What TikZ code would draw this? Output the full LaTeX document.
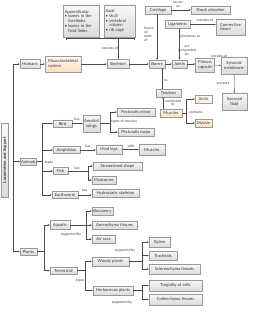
\documentclass[tikz,border=0pt]{standalone}
\usepackage{fontspec}
\setmainfont{Lato}
\usetikzlibrary{arrows.meta,shadows}
\newcommand\fsz{\fontsize{4.2}{4.8}\selectfont}
\newcommand\flab{\fontsize{3.5}{3.9}\selectfont}
\tikzset{
  box/.style={draw=gray!80, line width=0.4pt, top color=gray!6, bottom color=gray!28,
    inner sep=0.8pt, font=\fsz, text=black!80, align=center,
    drop shadow={shadow xshift=0.7pt, shadow yshift=-0.7pt, opacity=0.45}},
  pbox/.style={box, top color=orange!5, bottom color=orange!25},
  ln/.style={draw=gray!60!black, line width=0.35pt},
  arr/.style={ln, -{Stealth[length=2pt,width=1.7pt]}},
  lab/.style={font=\flab, text=black!75, inner sep=0.3pt, align=center}
}
\begin{document}
\begin{tikzpicture}[x=1pt,y=-1pt]
\useasboundingbox[fill=white] (0,0) rectangle (268,320);
% ---------- nodes (top part) ----------
\node[box, align=left, minimum width=36pt, minimum height=32pt, text width=33pt] (app) at (81,21) {Appendicular\\[-0.2pt]\textbullet\ bones in the\\\hphantom{\textbullet\ }forelimbs\\\textbullet\ bones in the\\\hphantom{\textbullet\ }hind limbs};
\node[box, align=left, minimum width=31pt, minimum height=32pt, text width=28pt] (axial) at (119.5,21) {Axial\\\textbullet\ skull\\\textbullet\ vertebral\\\hphantom{\textbullet\ }column\\\textbullet\ rib cage};
\node[box, minimum width=20pt, minimum height=9pt] (humans) at (30,64) {Humans};
\node[pbox, align=left, minimum width=36pt, minimum height=16pt] (musc) at (63,64) {Musculoskeletal\\system};
\node[box, minimum width=22pt, minimum height=9pt] (skel) at (118,64) {Skeleton};
\node[box, minimum width=16pt, minimum height=8pt] (bones) at (157,64) {Bones};
\node[box, minimum width=15pt, minimum height=8pt] (joints) at (179.5,64) {Joints};
\node[box, minimum width=19pt, minimum height=14pt] (fibrous) at (205,65) {Fibrous\\capsule};
\node[box, minimum width=26pt, minimum height=17pt] (synm) at (234,65.5) {Synovial\\membrane};
\node[box, minimum width=26pt, minimum height=8pt] (cart) at (158,10) {Cartilage};
\node[box, minimum width=39pt, minimum height=8pt] (shock) at (210.5,10) {Shock absorber};
\node[box, minimum width=25pt, minimum height=8pt] (lig) at (177.5,24.5) {Ligaments};
\node[box, align=left, minimum width=29pt, minimum height=16pt] (conn) at (230.5,27) {Connective\\tissue};
\node[box, minimum width=25pt, minimum height=17pt] (synf) at (234.5,101.5) {Synovial\\fluid};
\node[box, minimum width=25pt, minimum height=8pt] (tendons) at (168.5,93) {Tendons};
\node[pbox, minimum width=22pt, minimum height=8pt] (mus1) at (171,113) {Muscles};
\node[pbox, top color=orange!3, bottom color=orange!14, minimum width=17pt, minimum height=8pt] (actin) at (203.5,99) {Actin};
\node[pbox, minimum width=17pt, minimum height=8pt] (myosin) at (203.5,123) {Myosin};
% ---------- left side ----------
\node[box, rotate=90, minimum width=74pt, minimum height=7pt, font=\fsz\bfseries] (loco) at (5,160) {Locomotion and Support};
\node[box, minimum width=15pt, minimum height=7pt] (animals) at (28.5,161.5) {Animals};
\node[box, minimum width=19pt, minimum height=7pt] (bird) at (62.5,123.5) {Bird};
\node[box, minimum width=17pt, minimum height=17pt] (aero) at (91.5,123.5) {Aerofoil\\wings};
\node[box, minimum width=38pt, minimum height=8pt] (pmin) at (136,112) {Pectoralis minor};
\node[box, minimum width=36pt, minimum height=8pt] (pmaj) at (136,132) {Pectoralis major};
\node[box, minimum width=27pt, minimum height=7pt] (amph) at (66.5,150) {Amphibian};
\node[box, minimum width=26pt, minimum height=9pt] (hind) at (109,149.5) {Hind legs};
\node[box, minimum width=26pt, minimum height=11pt] (mus2) at (152,149.5) {Muscles};
\node[box, minimum width=15pt, minimum height=7pt] (fish) at (60.5,171) {Fish};
\node[box, minimum width=49pt, minimum height=8pt] (stream) at (117.5,166) {Streamlined shape};
\node[box, minimum width=24pt, minimum height=8pt] (myo) at (104,180) {Myotomes};
\node[box, minimum width=26pt, minimum height=7pt] (earth) at (65,195) {Earthworm};
\node[box, minimum width=47pt, minimum height=8pt] (hydro) at (115.5,193) {Hydrostatic skeleton};
\node[box, minimum width=17pt, minimum height=7pt] (plants) at (28.5,251.5) {Plants};
\node[box, minimum width=20pt, minimum height=9pt] (aquatic) at (60,225) {Aquatic};
\node[box, minimum width=27pt, minimum height=7pt] (terr) at (63.5,270.5) {Terrestrial};
\node[box, minimum width=21pt, minimum height=8pt] (buoy) at (102.5,211) {Buoyancy};
\node[box, minimum width=45pt, minimum height=8pt] (aeren) at (114.5,225) {Aerenchyma tissues};
\node[box, minimum width=23pt, minimum height=8pt] (airs) at (103.5,239) {Air sacs};
\node[box, minimum width=37pt, minimum height=9pt] (woody) at (110.5,261.5) {Woody plants};
\node[box, minimum width=40pt, minimum height=9pt] (herb) at (113,290.5) {Herbaceous plants};
\node[box, minimum width=21pt, minimum height=10pt] (xylem) at (159.5,242) {Xylem};
\node[box, minimum width=28pt, minimum height=9pt] (trach) at (163,255.5) {Tracheids};
\node[box, minimum width=51pt, minimum height=10pt] (scler) at (174.5,269) {Sclerenchyma tissues};
\node[box, minimum width=53pt, minimum height=11pt] (turg) at (175.5,285.5) {Turgidity of cells};
\node[box, minimum width=53pt, minimum height=11pt] (coll) at (175.5,299.5) {Collenchyma tissues};
% ---------- coordinates ----------
\coordinate (mtop) at (13,64);
\coordinate (mmid) at (13,161.5);
\coordinate (mbot) at (13,251.5);
\coordinate (brL) at (66,38.5);
\coordinate (brR) at (134,38.5);
\coordinate (brM) at (118,38.5);
\coordinate (ct) at (186,113);
\coordinate (ab) at (42,161.5);
\coordinate (aw) at (110,123.5);
\coordinate (fb) at (88,171);
\coordinate (pb) at (44,251.5);
\coordinate (qb) at (86,225);
\coordinate (tb) at (85,270.5);
\coordinate (wb) at (142,261.5);
\coordinate (hb) at (142,290.5);
% ---------- connectors ----------
\draw[ln] (mbot) -- (mtop);
\draw[arr] (mtop) -- (humans);
\draw[arr] (mmid) -- (animals);
\draw[arr] (mbot) -- (plants);
\draw[arr] (humans) -- (musc);
\draw[arr] (musc) -- (skel);
\draw[arr] (skel) -- (bones);
\draw[ln] ([yshift=-1.5pt]brL) -- (brL) -- (brR) -- ([yshift=-1.5pt]brR);
\draw[ln] (skel) -- (brM);
\node[lab] (l1) at (110,48) {consists of};
\draw[arr] (cart) -- (shock);
\node[lab] (l2) at (178,5) {serves\\as};
\draw[arr] (cart.south -| bones) -- (bones);
\node[lab, align=left] (l3) at (149,34.5) {found\\on\\ends\\of};
\draw[arr] (lig) -- (conn.west |- lig);
\node[lab] (l4) at (205,20.5) {consists of};
\draw[arr] (lig.south -| joints) -- (joints);
\node[lab] (l5) at (190,37) {join bones at};
\draw[arr] (bones) -- (joints);
\draw[arr] (joints) -- (fibrous.west |- joints);
\node[lab] (l6) at (187,51) {are\\surrounded\\by};
\draw[arr] (fibrous) -- (synm);
\node[lab] (l7) at (219,56.5) {consists of};
\draw[arr] (synm) -- (synf);
\node[lab] (l8) at (223,83) {secretes};
\draw[arr] ([xshift=-6pt]tendons.north) -- ([xshift=-6pt]tendons.north |- bones.south);
\node[lab] (l9) at (166,80) {to};
\draw[arr] ([xshift=-8pt]mus1.north) -- ([xshift=-8pt]mus1.north |- tendons.south);
\node[lab] (l10) at (173,103) {connected\\by};
\draw[ln] (mus1) -- (ct);
\draw[ln] (ct |- actin) -- (ct |- myosin);
\draw[arr] (ct |- actin) -- (actin);
\draw[arr] (ct |- myosin) -- (myosin);
\node[lab] (l11) at (196,112) {contains};
% animals
\draw[ln] (animals) -- (ab);
\draw[ln] (ab |- bird) -- (ab |- earth);
\draw[arr] (ab |- bird) -- (bird);
\draw[arr] (ab |- amph) -- (amph);
\draw[arr] (ab |- fish) -- (fish);
\draw[arr] (ab |- earth) -- (earth);
\node[lab] (l12) at (49,163) {types};
\draw[arr] (bird) -- (aero.west |- bird);
\node[lab] (l13) at (77,119.5) {has};
\draw[ln] (aero) -- (aw);
\draw[ln] (aw |- pmin) -- (aw |- pmaj);
\draw[arr] (aw |- pmin) -- (pmin);
\draw[arr] (aw |- pmaj) -- (pmaj);
\node[lab] (l14) at (124,122) {types of muscles};
\draw[arr] (amph) -- (hind.west |- amph);
\node[lab] (l15) at (88,146.5) {has};
\draw[arr] (hind) -- (mus2);
\node[lab] (l16) at (131,146.5) {with};
\draw[ln] (fish) -- (fb);
\draw[ln] (fb |- stream) -- (fb |- myo);
\draw[arr] (fb |- stream) -- (stream);
\draw[arr] (fb |- myo) -- (myo);
\node[lab] (l17) at (77,168) {has};
\draw[arr] (earth) -- (hydro.west |- earth);
\node[lab] (l18) at (84.5,190.5) {has};
% plants
\draw[ln] (plants) -- (pb);
\draw[ln] (pb |- aquatic) -- (pb |- terr);
\draw[arr] (pb |- aquatic) -- (aquatic);
\draw[arr] (pb |- terr) -- (terr);
\draw[ln] (aquatic) -- (qb);
\draw[ln] (qb |- buoy) -- (qb |- airs);
\draw[arr] (qb |- buoy) -- (buoy);
\draw[arr] (qb |- aeren) -- (aeren);
\draw[arr] (qb |- airs) -- (airs);
\node[lab] (l19) at (71,234.5) {supported by};
\draw[ln] (terr) -- (tb);
\draw[ln] (tb |- woody) -- (tb |- herb);
\draw[arr] (tb |- woody) -- (woody);
\draw[arr] (tb |- herb) -- (herb);
\node[lab] (l20) at (80,281) {types};
\draw[ln] (woody) -- (wb);
\draw[ln] (wb |- xylem) -- (wb |- scler);
\draw[arr] (wb |- xylem) -- (xylem);
\draw[arr] (wb |- trach) -- (trach);
\draw[arr] (wb |- scler) -- (scler);
\node[lab] (l21) at (125,251) {supported by};
\draw[ln] (herb) -- (hb);
\draw[ln] (hb |- turg) -- (hb |- coll);
\draw[arr] (hb |- turg) -- (turg);
\draw[arr] (hb |- coll) -- (coll);
\node[lab] (l22) at (122,302.5) {supported by};
\end{tikzpicture}
\end{document}
